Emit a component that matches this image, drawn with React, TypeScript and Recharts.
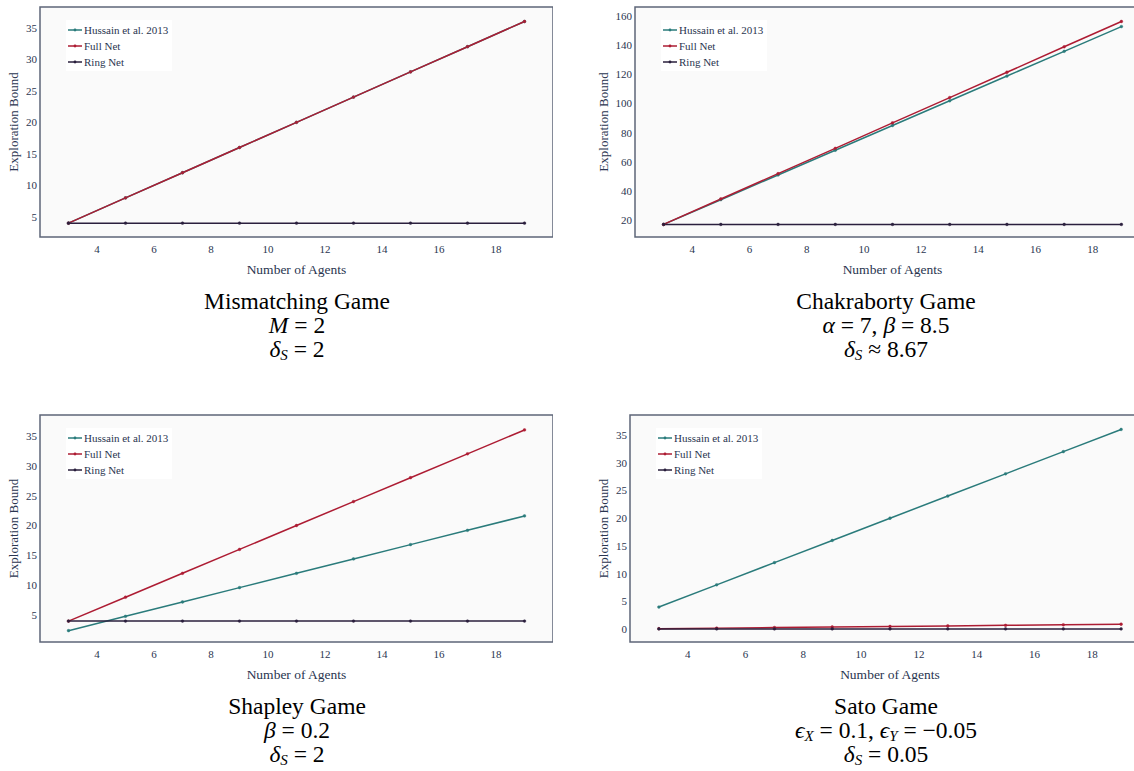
import React from "react";
import {
  LineChart,
  Line,
  XAxis,
  YAxis,
  CartesianGrid,
  ReferenceArea,
  Legend,
} from "recharts";

// number of agents on the x axis
const agents = [3, 5, 7, 9, 11, 13, 15, 17, 19];
const agentTicks = [4, 6, 8, 10, 12, 14, 16, 18];

// Mismatching game
const mismatchHussain = [4, 8, 12, 16, 20, 24, 28, 32, 36];
const mismatchFull = [4, 8, 12, 16, 20, 24, 28, 32, 36];
const mismatchRing = [4, 4, 4, 4, 4, 4, 4, 4, 4];
const mismatchTicks = [5, 10, 15, 20, 25, 30, 35];

// Chakraborty game
const chakHussain = [17.3, 34.2, 51.1, 68.0, 84.9, 101.8, 118.7, 135.6, 152.5];
const chakFull = [17.3, 34.7, 52.0, 69.3, 86.7, 104.0, 121.3, 138.7, 156.0];
const chakRing = [17.3, 17.3, 17.3, 17.3, 17.3, 17.3, 17.3, 17.3, 17.3];
const chakTicks = [20, 40, 60, 80, 100, 120, 140, 160];

// Shapley game
const shapleyHussain = [2.4, 4.8, 7.2, 9.6, 12.0, 14.4, 16.8, 19.2, 21.6];
const shapleyFull = [4, 8, 12, 16, 20, 24, 28, 32, 36];
const shapleyRing = [4, 4, 4, 4, 4, 4, 4, 4, 4];
const shapleyTicks = [5, 10, 15, 20, 25, 30, 35];

// Sato game
const satoHussain = [4, 8, 12, 16, 20, 24, 28, 32, 36];
const satoFull = [0.1, 0.2, 0.3, 0.4, 0.5, 0.6, 0.7, 0.8, 0.9];
const satoRing = [0.05, 0.05, 0.05, 0.05, 0.05, 0.05, 0.05, 0.05, 0.05];
const satoTicks = [0, 5, 10, 15, 20, 25, 30, 35];

const seriesNames = ["Hussain et al. 2013", "Full Net", "Ring Net"];

const SERIF = "'Liberation Serif', 'Times New Roman', Times, serif";
const TEXT = "#2a3550";
const FRAME = "#5d6678";
const HUSSAIN = "#2a7b7b";
const FULL = "#ad1c33";
const RING = "#2a1f3d";
const X_DOMAIN: [number, number] = [2, 20];

const toRows = (h: number[], f: number[], r: number[]) =>
  agents.map((n, i) => ({ n, hussain: h[i], full: f[i], ring: r[i] }));

function renderLegend(props: any) {
  const items = [...(props.payload || [])].sort(
    (a: any, b: any) => seriesNames.indexOf(a.value) - seriesNames.indexOf(b.value)
  );
  return (
    <div
      style={{
        background: "#fff",
        width: 106,
        height: 51,
        padding: "2px 0 0 2px",
        boxSizing: "border-box",
        fontFamily: SERIF,
        fontSize: 11,
        color: TEXT,
      }}
    >
      {items.map((p: any) => (
        <div key={p.value} style={{ display: "flex", alignItems: "center", height: 16 }}>
          <svg width={15} height={8}>
            <line x1={0} y1={4} x2={14} y2={4} stroke={p.color} strokeWidth={1.5} />
            <circle cx={7} cy={4} r={1.4} fill={p.color} />
          </svg>
          <span style={{ marginLeft: 1, whiteSpace: "nowrap" }}>{p.value}</span>
        </div>
      ))}
    </div>
  );
}

interface PanelProps {
  left: number;
  top: number;
  width: number;
  height: number;
  yWidth: number;
  rows: Array<{ n: number; hussain: number; full: number; ring: number }>;
  yDomain: [number, number];
  yTicks: number[];
}

function Panel({ left, top, width, height, yWidth, rows, yDomain, yTicks }: PanelProps) {
  const dot = (c: string) => ({ r: 1.4, fill: c, stroke: c, strokeWidth: 0.4 });
  return (
    <div style={{ position: "absolute", left, top }}>
      <LineChart
        width={width}
        height={height}
        data={rows}
        margin={{ top: 7, right: 0, left: 0, bottom: 0 }}
        style={{ fontFamily: SERIF }}
      >
        <CartesianGrid horizontal={false} vertical={false} fill="#fafafa" fillOpacity={1} />
        <XAxis
          dataKey="n"
          type="number"
          domain={X_DOMAIN}
          ticks={agentTicks}
          allowDataOverflow
          axisLine={false}
          tickLine={false}
          tickSize={4}
          tickMargin={4}
          height={43}
          tick={{ fontSize: 11, fill: TEXT }}
          label={{
            value: "Number of Agents",
            position: "insideBottom",
            offset: 6,
            style: { fontSize: 13.5, fill: TEXT },
          }}
        />
        <YAxis
          type="number"
          domain={yDomain}
          ticks={yTicks}
          allowDataOverflow
          axisLine={false}
          tickLine={false}
          tickSize={1}
          tickMargin={2}
          width={yWidth}
          tick={{ fontSize: 11, fill: TEXT }}
          label={{
            value: "Exploration Bound",
            angle: -90,
            position: "insideLeft",
            offset: 13,
            style: { textAnchor: "middle", fontSize: 13, fill: TEXT },
          }}
        />
        <Legend
          layout="horizontal"
          verticalAlign="middle"
          align="center"
          wrapperStyle={{ left: yWidth + 26, top: 20, width: 106 }}
          content={renderLegend}
        />
        <Line
          dataKey="hussain"
          name={seriesNames[0]}
          stroke={HUSSAIN}
          strokeWidth={1.5}
          dot={dot(HUSSAIN)}
          activeDot={false}
          isAnimationActive={false}
        />
        <Line
          dataKey="full"
          name={seriesNames[1]}
          stroke={FULL}
          strokeWidth={1.5}
          dot={dot(FULL)}
          activeDot={false}
          isAnimationActive={false}
        />
        <Line
          dataKey="ring"
          name={seriesNames[2]}
          stroke={RING}
          strokeWidth={1.5}
          dot={dot(RING)}
          activeDot={false}
          isAnimationActive={false}
        />
        <ReferenceArea
          x1={X_DOMAIN[0]}
          x2={X_DOMAIN[1]}
          y1={yDomain[0]}
          y2={yDomain[1]}
          fill="none"
          stroke={FRAME}
          strokeWidth={1.5}
          ifOverflow="visible"
        />
      </LineChart>
    </div>
  );
}

const It = ({ children }: { children: React.ReactNode }) => (
  <span style={{ fontStyle: "italic" }}>{children}</span>
);

const Sub = ({ children }: { children: React.ReactNode }) => (
  <span
    style={{
      display: "inline-block",
      fontSize: 15,
      lineHeight: "12px",
      height: 12,
      fontStyle: "italic",
      verticalAlign: -3,
    }}
  >
    {children}
  </span>
);

function Caption({ cx, top, lines }: { cx: number; top: number; lines: React.ReactNode[] }) {
  return (
    <div
      style={{
        position: "absolute",
        left: cx - 200,
        top,
        width: 400,
        textAlign: "center",
        fontFamily: SERIF,
        fontSize: 23.5,
        lineHeight: "24px",
        color: "#000",
      }}
    >
      {lines.map((l, i) => (
        <div key={i} style={{ height: 24, whiteSpace: "nowrap" }}>
          {l}
        </div>
      ))}
    </div>
  );
}

export default function App() {
  return (
    <div
      style={{
        position: "absolute",
        left: 0,
        top: 0,
        width: 1134,
        height: 771,
        overflow: "hidden",
        background: "#fff",
        fontFamily: SERIF,
      }}
    >
      <Panel
        left={0}
        top={0}
        width={553}
        height={280}
        yWidth={40}
        rows={toRows(mismatchHussain, mismatchFull, mismatchRing)}
        yDomain={[1.8, 38.3]}
        yTicks={mismatchTicks}
      />
      <Panel
        left={590}
        top={0}
        width={560}
        height={280}
        yWidth={45}
        rows={toRows(chakHussain, chakFull, chakRing)}
        yDomain={[8.7, 165.9]}
        yTicks={chakTicks}
      />
      <Panel
        left={0}
        top={408}
        width={553}
        height={277}
        yWidth={40}
        rows={toRows(shapleyHussain, shapleyFull, shapleyRing)}
        yDomain={[0.5, 38.5]}
        yTicks={shapleyTicks}
      />
      <Panel
        left={590}
        top={408}
        width={560}
        height={277}
        yWidth={40}
        rows={toRows(satoHussain, satoFull, satoRing)}
        yDomain={[-2.3, 38.6]}
        yTicks={satoTicks}
      />

      <Caption
        cx={297}
        top={289}
        lines={[
          "Mismatching Game",
          <span><It>M</It> = 2</span>,
          <span><It>δ</It><Sub>S</Sub> = 2</span>,
        ]}
      />
      <Caption
        cx={886}
        top={289}
        lines={[
          "Chakraborty Game",
          <span><It>α</It> = 7, <It>β</It> = 8.5</span>,
          <span><It>δ</It><Sub>S</Sub> ≈ 8.67</span>,
        ]}
      />
      <Caption
        cx={297}
        top={694}
        lines={[
          "Shapley Game",
          <span><It>β</It> = 0.2</span>,
          <span><It>δ</It><Sub>S</Sub> = 2</span>,
        ]}
      />
      <Caption
        cx={886}
        top={694}
        lines={[
          "Sato Game",
          <span><It>ϵ</It><Sub>X</Sub> = 0.1, <It>ϵ</It><Sub>Y</Sub> = −0.05</span>,
          <span><It>δ</It><Sub>S</Sub> = 0.05</span>,
        ]}
      />
    </div>
  );
}
